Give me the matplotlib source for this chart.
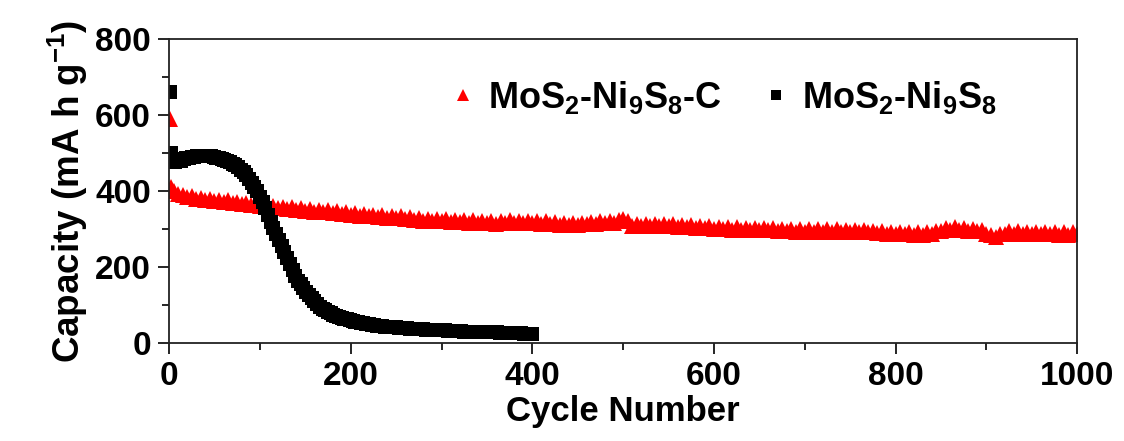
import numpy as np
import matplotlib
matplotlib.use('Agg')
import matplotlib.pyplot as plt

plt.rcParams['font.family'] = 'Liberation Sans'
plt.rcParams['font.weight'] = 'bold'
plt.rcParams['mathtext.fontset'] = 'custom'
plt.rcParams['mathtext.rm'] = 'Liberation Sans:bold'
plt.rcParams['mathtext.it'] = 'Liberation Sans:bold'
plt.rcParams['mathtext.bf'] = 'Liberation Sans:bold'

# MoS2-Ni9S8-C: cycles 1, 2, 3 then every 5th cycle up to 1000
red_first = [590, 410, 401]
red_vals = [
    399, 391, 390, 385, 386, 379, 382, 377, 379, 374, 377, 371, 375, 369, 371, 367, 369, 363, 366, 360,
    363, 356, 361, 354, 359, 352, 357, 350, 355, 347, 352, 346, 350, 344, 349, 342, 347, 340, 345, 338,
    343, 335, 339, 333, 337, 331, 336, 329, 335, 328, 334, 327, 331, 324, 330, 322, 327, 321, 326, 320,
    325, 319, 324, 318, 324, 317, 323, 316, 321, 315, 320, 314, 321, 316, 323, 316, 321, 315, 321, 315,
    320, 314, 320, 313, 318, 311, 316, 310, 316, 310, 317, 312, 319, 314, 320, 315, 321, 316, 324, 327,
    320, 309, 314, 308, 314, 307, 313, 307, 313, 307, 312, 306, 311, 304, 310, 303, 309, 302, 307, 301,
    306, 300, 305, 298, 304, 298, 303, 297, 303, 297, 303, 297, 302, 295, 301, 294, 300, 293, 299, 293,
    299, 293, 299, 293, 299, 293, 299, 292, 298, 292, 297, 291, 297, 291, 296, 289, 294, 287, 293, 286,
    292, 286, 291, 285, 291, 285, 291, 288, 296, 294, 303, 297, 304, 297, 303, 296, 301, 294, 298, 287,
    285, 279, 288, 287, 294, 288, 294, 288, 293, 287, 293, 286, 292, 286, 292, 285, 291, 285, 291, 286,
]

# MoS2-Ni9S8: cycles 1, 2 then every 3rd cycle from 4 to 400
black_first = [660, 500]
black_vals = [
    477, 476, 478, 480, 483, 486, 487, 489, 490, 491,
    492, 493, 493, 492, 491, 490, 488, 486, 484, 481,
    479, 475, 472, 468, 462, 456, 449, 441, 432, 422,
    411, 399, 385, 370, 354, 336, 319, 303, 287, 271,
    255, 240, 224, 208, 192, 177, 164, 154, 144, 135,
    126, 118, 110, 103, 96, 90, 86, 82, 78, 75,
    72, 69, 67, 64, 62, 60, 58, 56, 55, 53,
    52, 50, 49, 48, 47, 46, 45, 44, 43, 43,
    42, 41, 41, 40, 40, 39, 39, 38, 38, 37,
    37, 36, 36, 35, 35, 34, 34, 34, 33, 33,
    33, 32, 32, 32, 31, 31, 31, 30, 30, 30,
    30, 29, 29, 29, 29, 28, 28, 28, 28, 28,
    27, 27, 27, 27, 26, 26, 26, 26, 26, 25,
    25, 25, 25,
]

red_x = [1, 2, 3] + list(range(5, 1001, 5))
red_y = red_first + red_vals
black_x = [1, 2] + list(range(4, 401, 3))
black_y = black_first + black_vals

fig = plt.figure(figsize=(11.24, 4.41), dpi=100)
ax = fig.add_axes([0.1504, 0.2222, 0.808, 0.6894])

ax.plot(red_x, red_y, '^', color='#ff0000', ms=11, mew=0, label=r'MoS$_2$-Ni$_9$S$_8$-C')
ax.plot(black_x, black_y, 's', color='black', ms=10.5, mew=0, label=r'MoS$_2$-Ni$_9$S$_8$')

ax.set_xlim(0, 1000)
ax.set_ylim(0, 800)
ax.set_xticks(range(0, 1001, 200))
ax.set_xticks(range(100, 1000, 200), minor=True)
ax.set_yticks(range(0, 801, 200))
ax.set_yticks(range(100, 800, 200), minor=True)
ax.tick_params(which='major', direction='out', length=8, width=1.2, labelsize=24, pad=5)
ax.tick_params(which='minor', direction='out', length=5, width=1.2)
for s in ax.spines.values():
    s.set_linewidth(1.3)
    s.set_color('#222222')

ax.set_xlabel('Cycle Number', fontsize=25, fontweight='bold', labelpad=2)
ax.set_ylabel(r'Capacity (mA h g$^{-1}$)', fontsize=26.5, fontweight='bold', labelpad=4)

leg = ax.legend(loc='upper left', bbox_to_anchor=(0.268, 0.975), ncol=2, frameon=False,
                fontsize=26, handletextpad=0.2, columnspacing=1.0, markerscale=0.75,
                handlelength=1.0)

fig.savefig('out.png', dpi=100)
